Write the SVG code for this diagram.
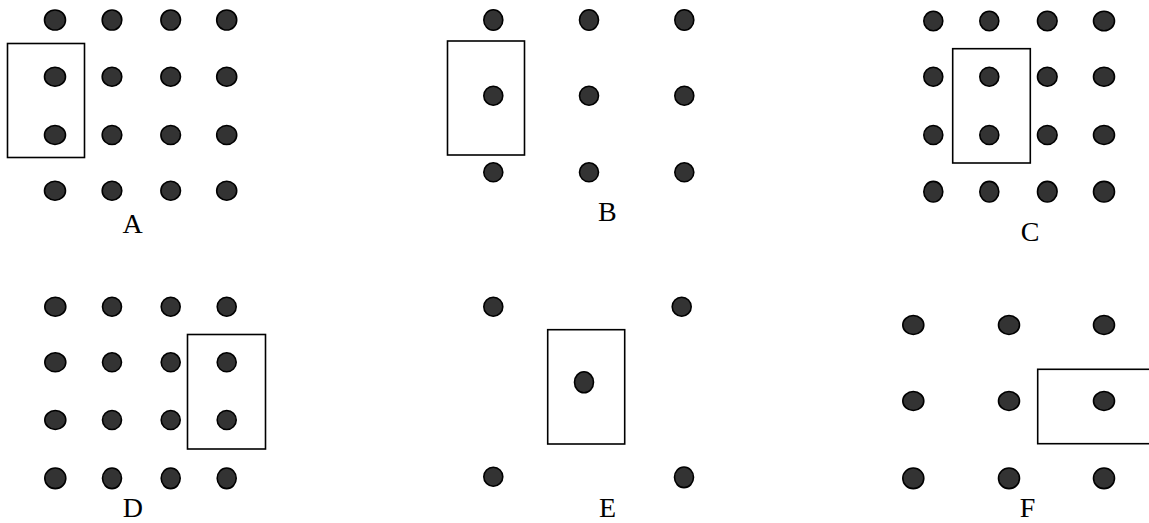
<svg xmlns="http://www.w3.org/2000/svg" width="1149" height="523" viewBox="0 0 1149 523">
<style>
.d{fill:#333;stroke:#000;stroke-width:1.6}
.b{fill:none;stroke:#000;stroke-width:1.6}
.t{font-family:"Liberation Serif","Times New Roman",serif;font-size:28px;fill:#000;text-anchor:middle}
</style>
<rect width="1149" height="523" fill="#fff"/>
<g id="panelA">
<rect class="b" x="7.5" y="43.5" width="77" height="114"/>
<ellipse class="d" cx="55" cy="20" rx="10.5" ry="10"/><ellipse class="d" cx="112" cy="20" rx="9.8" ry="10"/><ellipse class="d" cx="170.7" cy="20" rx="9.8" ry="10"/><ellipse class="d" cx="226.7" cy="20" rx="10" ry="10"/>
<ellipse class="d" cx="55" cy="76.7" rx="10.5" ry="9.5"/><ellipse class="d" cx="112" cy="76.7" rx="9.8" ry="9.5"/><ellipse class="d" cx="170.7" cy="76.7" rx="9.8" ry="9.5"/><ellipse class="d" cx="226.7" cy="76.7" rx="10" ry="9.5"/>
<ellipse class="d" cx="55" cy="135" rx="10.5" ry="9.5"/><ellipse class="d" cx="112" cy="135" rx="9.8" ry="9.5"/><ellipse class="d" cx="170.7" cy="135" rx="9.8" ry="9.5"/><ellipse class="d" cx="226.7" cy="135" rx="10" ry="9.5"/>
<ellipse class="d" cx="55" cy="190.7" rx="10.5" ry="9.5"/><ellipse class="d" cx="112" cy="190.7" rx="9.8" ry="9.5"/><ellipse class="d" cx="170.7" cy="190.7" rx="9.8" ry="9.5"/><ellipse class="d" cx="226.7" cy="190.7" rx="10" ry="9.5"/>
<text class="t" x="132.5" y="233.3">A</text>
</g>
<g id="panelB">
<rect class="b" x="447.5" y="41" width="77" height="114"/>
<ellipse class="d" cx="493.3" cy="20" rx="9.5" ry="10.3"/><ellipse class="d" cx="589" cy="20" rx="9.5" ry="10.3"/><ellipse class="d" cx="684.3" cy="20" rx="9.5" ry="10.3"/>
<ellipse class="d" cx="493.3" cy="95.7" rx="9.5" ry="9.5"/><ellipse class="d" cx="589" cy="95.7" rx="9.5" ry="9.5"/><ellipse class="d" cx="684.3" cy="95.7" rx="9.5" ry="9.5"/>
<ellipse class="d" cx="493.3" cy="172.3" rx="9.5" ry="9.5"/><ellipse class="d" cx="589" cy="172.3" rx="9.5" ry="9.5"/><ellipse class="d" cx="684.3" cy="172.3" rx="9.5" ry="9.5"/>
<text class="t" x="607.3" y="220.7">B</text>
</g>
<g id="panelC">
<rect class="b" x="952.7" y="48.7" width="77.6" height="114.3"/>
<ellipse class="d" cx="933.3" cy="21" rx="9.5" ry="9.8"/><ellipse class="d" cx="989.3" cy="21" rx="9.5" ry="9.8"/><ellipse class="d" cx="1047.3" cy="21" rx="9.8" ry="9.8"/><ellipse class="d" cx="1104" cy="21" rx="10.5" ry="9.8"/>
<ellipse class="d" cx="933.3" cy="76.7" rx="9.5" ry="9.5"/><ellipse class="d" cx="989.3" cy="76.7" rx="9.5" ry="9.5"/><ellipse class="d" cx="1047.3" cy="76.7" rx="9.8" ry="9.5"/><ellipse class="d" cx="1104" cy="76.7" rx="10.5" ry="9.5"/>
<ellipse class="d" cx="933.3" cy="135" rx="9.5" ry="9.5"/><ellipse class="d" cx="989.3" cy="135" rx="9.5" ry="9.5"/><ellipse class="d" cx="1047.3" cy="135" rx="9.8" ry="9.5"/><ellipse class="d" cx="1104" cy="135" rx="10.5" ry="9.5"/>
<ellipse class="d" cx="933.3" cy="191.7" rx="9.5" ry="10.3"/><ellipse class="d" cx="989.3" cy="191.7" rx="9.5" ry="10.3"/><ellipse class="d" cx="1047.3" cy="191.7" rx="9.8" ry="10.3"/><ellipse class="d" cx="1104" cy="191.7" rx="10.5" ry="10.3"/>
<text class="t" x="1030" y="240.7">C</text>
</g>
<g id="panelD">
<rect class="b" x="187.5" y="334.5" width="78" height="114.5"/>
<ellipse class="d" cx="55.3" cy="306.7" rx="10.5" ry="9.5"/><ellipse class="d" cx="112" cy="306.7" rx="9.5" ry="9.5"/><ellipse class="d" cx="170.7" cy="306.7" rx="9.5" ry="9.5"/><ellipse class="d" cx="226.7" cy="306.7" rx="9.5" ry="9.5"/>
<ellipse class="d" cx="55.3" cy="362.3" rx="10.5" ry="9.5"/><ellipse class="d" cx="112" cy="362.3" rx="9.5" ry="9.5"/><ellipse class="d" cx="170.7" cy="362.3" rx="9.5" ry="9.5"/><ellipse class="d" cx="226.7" cy="362.3" rx="9.5" ry="9.5"/>
<ellipse class="d" cx="55.3" cy="420" rx="10.5" ry="9.5"/><ellipse class="d" cx="112" cy="420" rx="9.5" ry="9.5"/><ellipse class="d" cx="170.7" cy="420" rx="9.5" ry="9.5"/><ellipse class="d" cx="226.7" cy="420" rx="9.5" ry="9.5"/>
<ellipse class="d" cx="55.3" cy="478.3" rx="10.5" ry="10.3"/><ellipse class="d" cx="112" cy="478.3" rx="9.5" ry="10.3"/><ellipse class="d" cx="170.7" cy="478.3" rx="9.5" ry="10.3"/><ellipse class="d" cx="226.7" cy="478.3" rx="9.5" ry="10.3"/>
<text class="t" x="132.8" y="517">D</text>
</g>
<g id="panelE">
<rect class="b" x="547.7" y="329.7" width="77" height="114.3"/>
<ellipse class="d" cx="493.3" cy="306.7" rx="9.5" ry="9.5"/><ellipse class="d" cx="681.7" cy="306.7" rx="9.5" ry="9.5"/>
<ellipse class="d" cx="584" cy="382.3" rx="9.5" ry="10.5"/>
<ellipse class="d" cx="493.3" cy="476.7" rx="9.5" ry="9.5"/><ellipse class="d" cx="684" cy="477.3" rx="9.5" ry="10.3"/>
<text class="t" x="607.5" y="517">E</text>
</g>
<g id="panelF">
<rect class="b" x="1037.7" y="369.3" width="120" height="74.4"/>
<ellipse class="d" cx="913.3" cy="325" rx="10.5" ry="9.5"/><ellipse class="d" cx="1009" cy="325" rx="10.5" ry="9.5"/><ellipse class="d" cx="1104" cy="325" rx="10.5" ry="9.5"/>
<ellipse class="d" cx="913.3" cy="401" rx="10.5" ry="9.5"/><ellipse class="d" cx="1009" cy="401" rx="10.5" ry="9.5"/><ellipse class="d" cx="1104" cy="401" rx="10.5" ry="9.5"/>
<ellipse class="d" cx="913.3" cy="478.3" rx="10.5" ry="10.3"/><ellipse class="d" cx="1009" cy="478.3" rx="10.5" ry="10.3"/><ellipse class="d" cx="1104" cy="478.3" rx="10.5" ry="10.3"/>
<text class="t" x="1027.5" y="517">F</text>
</g>
</svg>
